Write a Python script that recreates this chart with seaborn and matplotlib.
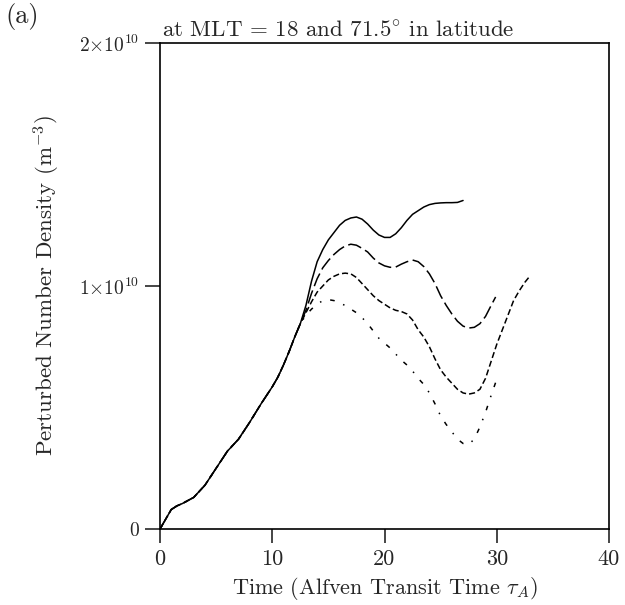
import numpy as np
import pandas as pd
import matplotlib
matplotlib.use("Agg")
import matplotlib.pyplot as plt
import seaborn as sns

# shared initial rise (time in tau_A, density in 1e10 m^-3)
rise_t = [0, 0.5, 1.0, 1.5, 2.0, 3.0, 4.0, 5.0, 6.0, 7.0, 8.0, 9.0, 10.0, 10.5, 11.0, 11.5, 12.0, 12.5]
rise_n = [0, 0.04, 0.08, 0.095, 0.105, 0.13, 0.18, 0.25, 0.32, 0.37, 0.44, 0.515, 0.585, 0.625, 0.675,
          0.73, 0.79, 0.845]

# curve 1 (solid)
c1_t = [13, 13.5, 14, 14.5, 15, 15.5, 16, 16.5, 17, 17.5, 18, 18.5, 19, 19.5, 20, 20.5, 21, 21.5, 22, 22.5,
        23, 23.5, 24, 24.5, 25, 25.5, 26, 26.5, 27]
c1_n = [0.92, 1.02, 1.10, 1.15, 1.19, 1.22, 1.25, 1.27, 1.28, 1.284, 1.275, 1.255, 1.23, 1.21, 1.20, 1.20,
        1.215, 1.24, 1.27, 1.295, 1.31, 1.325, 1.335, 1.34, 1.342, 1.343, 1.343, 1.344, 1.352]

# curve 2 (long dash)
c2_t = [13, 13.5, 14, 14.5, 15, 15.5, 16, 16.5, 17, 17.5, 18, 18.5, 19, 19.5, 20, 20.5, 21, 21.5, 22, 22.5,
        23, 23.5, 24, 24.5, 25, 25.5, 26, 26.5, 27, 27.5, 28, 28.5, 29, 29.5, 29.9]
c2_n = [0.90, 0.97, 1.03, 1.075, 1.105, 1.13, 1.15, 1.165, 1.172, 1.168, 1.155, 1.14, 1.115, 1.095, 1.083,
        1.077, 1.078, 1.09, 1.10, 1.107, 1.10, 1.08, 1.05, 1.01, 0.96, 0.92, 0.885, 0.855, 0.835, 0.827,
        0.83, 0.845, 0.875, 0.92, 0.955]

# curve 3 (short dash)
c3_t = [13, 13.5, 14, 14.5, 15, 15.5, 16, 16.5, 17, 17.5, 18, 18.5, 19, 19.5, 20, 20.5, 21, 21.5, 22, 22.5,
        23, 23.5, 24, 24.5, 25, 25.5, 26, 26.5, 27, 27.5, 28, 28.5, 29, 29.5, 30, 30.5, 31, 31.5, 32,
        32.5, 32.9]
c3_n = [0.89, 0.935, 0.975, 1.0, 1.025, 1.04, 1.05, 1.053, 1.05, 1.035, 1.01, 0.985, 0.96, 0.94, 0.925,
        0.91, 0.90, 0.895, 0.885, 0.86, 0.82, 0.79, 0.75, 0.70, 0.655, 0.625, 0.60, 0.575, 0.56, 0.555,
        0.56, 0.575, 0.62, 0.69, 0.76, 0.82, 0.88, 0.94, 0.98, 1.015, 1.038]

# curve 4 (sparse dash-dot)
c4_t = [13, 13.5, 14, 14.5, 15, 15.5, 16, 16.5, 17, 17.5, 18, 18.5, 19, 19.5, 20, 20.5, 21, 21.5, 22, 22.5,
        23, 23.5, 24, 24.5, 25, 25.5, 26, 26.5, 27, 27.5, 28, 28.5, 29, 29.5, 29.9]
c4_n = [0.88, 0.905, 0.925, 0.94, 0.944, 0.94, 0.93, 0.92, 0.905, 0.89, 0.87, 0.845, 0.815, 0.785, 0.765,
        0.745, 0.72, 0.695, 0.675, 0.65, 0.62, 0.595, 0.56, 0.515, 0.465, 0.43, 0.40, 0.37, 0.352, 0.348,
        0.37, 0.42, 0.48, 0.55, 0.603]

x_ticks = [0, 10, 20, 30, 40]
y_ticks = [0, 1e10, 2e10]
y_tick_labels = ["0", r"$1{\times}10^{10}$", r"$2{\times}10^{10}$"]

frames = []
for name, t, n in [("c1", c1_t, c1_n), ("c2", c2_t, c2_n), ("c3", c3_t, c3_n), ("c4", c4_t, c4_n)]:
    tt = rise_t + t
    nn = [v * 1e10 for v in rise_n + n]
    frames.append(pd.DataFrame({"time": tt, "density": nn, "run": name}))
df = pd.concat(frames, ignore_index=True)

sns.set_theme(style="ticks")
plt.rcParams.update({
    "font.family": "serif",
    "font.serif": ["cmr10", "DejaVu Serif"],
    "mathtext.fontset": "cm",
    "axes.formatter.use_mathtext": True,
    "axes.unicode_minus": False,
})

fig = plt.figure(figsize=(6.25, 6.05), dpi=100)
ax = fig.add_axes([0.256, 0.1256, 0.7184, 0.8033])

dash_map = {"c1": "", "c2": (9, 3), "c3": (4, 2), "c4": (3, 6, 1, 6)}
sns.lineplot(data=df, x="time", y="density", style="run", dashes=dash_map, color="black",
             linewidth=1.1, legend=False, sort=False, estimator=None, ax=ax)

ax.set_xlim(0, 40)
ax.set_ylim(0, 2e10)
ax.set_xticks(x_ticks)
ax.set_xticklabels([str(v) for v in x_ticks])
ax.set_yticks(y_ticks)
ax.set_yticklabels(y_tick_labels)
ax.tick_params(axis="x", direction="out", length=10, width=1.2, pad=5, labelsize=16)
ax.tick_params(axis="y", direction="out", length=11, width=1.2, pad=4, labelsize=14)
for s in ax.spines.values():
    s.set_visible(True)
    s.set_linewidth(1.2)
    s.set_color("black")

ax.set_xlabel(r"Time (Alfven Transit Time $\tau_A$)", fontsize=16, labelpad=4)
ax.set_ylabel(r"Perturbed Number Density (m$^{-3}$)", fontsize=16.5, labelpad=12)
ax.text(0.005, 1.003, r"at MLT = 18 and 71.5$^{\circ}$ in latitude", transform=ax.transAxes,
        fontsize=16.5, ha="left", va="bottom")
fig.text(0.008, 0.995, "(a)", fontsize=19, ha="left", va="top")

fig.savefig("out.png", dpi=100, facecolor="white")
